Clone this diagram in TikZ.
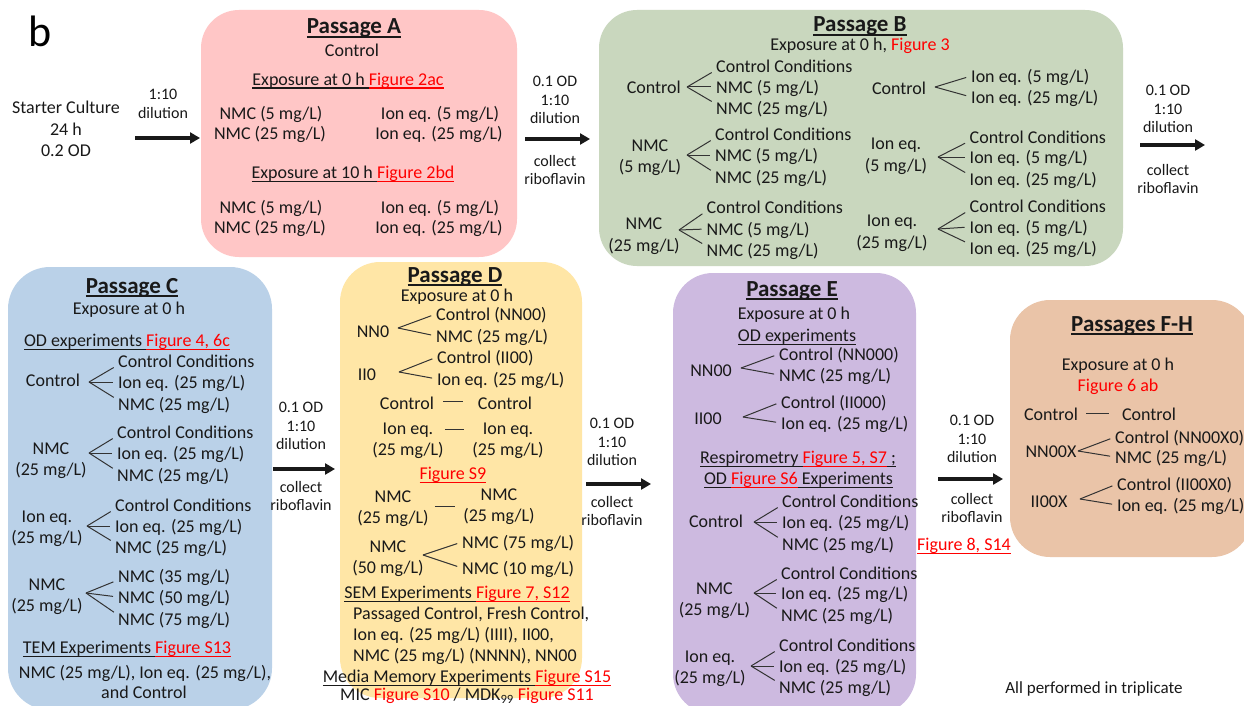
\documentclass[tikz,border=0pt]{standalone}
\usepackage{fontspec}
\setmainfont{Carlito}
\usetikzlibrary{arrows.meta}
\definecolor{cA}{HTML}{FFC6C6}
\definecolor{cB}{HTML}{C9D7BE}
\definecolor{cC}{HTML}{BAD1E8}
\definecolor{cD}{HTML}{FFE6A6}
\definecolor{cE}{HTML}{CDBAE0}
\definecolor{cF}{HTML}{EAC4A8}
\newcommand\myul[1]{\leavevmode\setbox0\hbox{#1}\rlap{\vrule height -2pt depth 3.3pt width \wd0}\box0}
\newcommand\myulb[1]{\leavevmode\setbox0\hbox{#1}\rlap{\vrule height -2.2pt depth 4.2pt width \wd0}\box0}
\newcommand\fanthree[4]{\draw[br] (#1) -- ([yshift=-4pt]#2.west); \draw[br] (#1) -- (#3.west); \draw[br] (#1) -- ([yshift=4pt]#4.west);}
\newcommand\fantwo[3]{\draw[br] (#1) -- (#2.west); \draw[br] (#1) -- (#3.west);}
\tikzset{
  t/.style={font=\fontsize{18}{21.5}\selectfont, inner sep=0pt, text height=16pt, text depth=3pt, text=black!90},
  tl/.style={t, anchor=west},
  mlc/.style={font=\fontsize{18}{21.5}\selectfont, inner sep=0pt, align=center, text=black!90},
  ml/.style={mlc, yshift=-2.2pt},
  sl/.style={font=\fontsize{16}{18.5}\selectfont, inner sep=0pt, align=center, text=black!90},
  ttl/.style={font=\fontsize{23}{27}\selectfont\bfseries, inner sep=0pt, text height=18pt, text depth=4pt, text=black!90},
  br/.style={line width=1pt, draw=black!80, shorten >=5pt},
  dsh/.style={line width=1pt, draw=black!80},
  arr/.style={line width=3.2pt, -{Triangle[length=10pt,width=11pt]}, draw=black!90},
  box/.style={rounded corners=38pt, inner sep=0pt, draw=none},
}
\begin{document}
\begin{tikzpicture}[x=1pt,y=-1pt]
\useasboundingbox (0,0) rectangle (1244,706);
\clip (0,0) rectangle (1244,706);
\fill[white] (0,0) rectangle (1244,706);

% boxes
\node[box, fill=cA, minimum width=316pt, minimum height=247pt] (bxA) at (359,133.5) {};
\node[box, fill=cB, minimum width=524pt, minimum height=256pt] (bxB) at (861,138) {};
\node[box, fill=cC, minimum width=264pt, minimum height=443pt, rounded corners=42pt] (bxC) at (140,488.5) {};
\node[box, fill=cD, minimum width=242pt, minimum height=436pt, rounded corners=40pt] (bxD) at (461,480) {};
\node[box, fill=cE, minimum width=243pt, minimum height=441pt, rounded corners=40pt] (bxE) at (794.5,493.5) {};
\node[box, fill=cF, minimum width=242pt, minimum height=257pt, rounded corners=40pt] (bxF) at (1131,428.5) {};

% label b and starter
\node[font=\fontsize{44}{50}\selectfont, inner sep=0pt, text=black] (lb) at (40,31) {b};
\node[mlc] (st) at (66,129) {Starter Culture\\24 h\\0.2 OD};
\node[sl] (l0) at (163,104) {1:10\\dilution};
\coordinate (a0s) at (135,138); \coordinate (a0e) at (200,138);
\draw[arr] (a0s) -- (a0e);

% Passage A
\node[ttl] (tA) at (354,27) {\myulb{Passage A}};
\node[t] (cA1) at (352,50) {Control};
\node[t] (xA1) at (348,79) {\myul{Exposure at 0 h }\textcolor{red}{\myul{Figure 2ac}}};
\node[t] (nA1) at (271,113) {NMC (5 mg/L)};
\node[t] (nA2) at (270,133) {NMC (25 mg/L)};
\node[t] (iA1) at (440,113) {Ion eq. (5 mg/L)};
\node[t] (iA2) at (439,133) {Ion eq. (25 mg/L)};
\node[t] (xA2) at (353,172) {\myul{Exposure at 10 h }\textcolor{red}{\myul{Figure 2bd}}};
\node[t] (nA3) at (271,207) {NMC (5 mg/L)};
\node[t] (nA4) at (270,227) {NMC (25 mg/L)};
\node[t] (iA3) at (440,207) {Ion eq. (5 mg/L)};
\node[t] (iA4) at (439,227) {Ion eq. (25 mg/L)};

% A -> B
\node[sl] (l1a) at (555,100) {0.1 OD\\1:10\\dilution};
\node[sl] (l1b) at (555,170) {collect\\riboflavin};
\coordinate (a1s) at (525,139); \coordinate (a1e) at (590,139);
\draw[arr] (a1s) -- (a1e);

% Passage B
\node[ttl] (tB) at (860,25) {\myulb{Passage B}};
\node[t] (eB) at (860,44) {Exposure at 0 h, \textcolor{red}{Figure 3}};
\node[t, anchor=east] (g1) at (681,87) {Control};
\coordinate (g1v) at (687,87);
\node[tl] (g1a) at (716,66) {Control Conditions};
\node[tl] (g1b) at (716,87) {NMC (5 mg/L)};
\node[tl] (g1c) at (716,108) {NMC (25 mg/L)};
\fanthree{g1v}{g1a}{g1b}{g1c}
\node[ml] (g2) at (650,155.5) {NMC\\(5 mg/L)};
\coordinate (g2v) at (687,155);
\node[tl] (g2a) at (715,134) {Control Conditions};
\node[tl] (g2b) at (715,155) {NMC (5 mg/L)};
\node[tl] (g2c) at (715,177) {NMC (25 mg/L)};
\fanthree{g2v}{g2a}{g2b}{g2c}
\node[ml] (g3) at (644,234) {NMC\\(25 mg/L)};
\coordinate (g3v) at (679,230);
\node[tl] (g3a) at (706.5,207) {Control Conditions};
\node[tl] (g3b) at (706.5,229) {NMC (5 mg/L)};
\node[tl] (g3c) at (706.5,250) {NMC (25 mg/L)};
\fanthree{g3v}{g3a}{g3b}{g3c}
\node[t] (g4) at (899,88) {Control};
\coordinate (g4v) at (935,87);
\node[tl] (g4a) at (971,76) {Ion eq. (5 mg/L)};
\node[tl] (g4b) at (971,97) {Ion eq. (25 mg/L)};
\fantwo{g4v}{g4a}{g4b}
\node[ml] (g5) at (896,154) {Ion eq.\\(5 mg/L)};
\coordinate (g5v) at (938,157);
\node[tl] (g5a) at (969.5,137) {Control Conditions};
\node[tl] (g5b) at (969.5,157) {Ion eq. (5 mg/L)};
\node[tl] (g5c) at (969.5,179) {Ion eq. (25 mg/L)};
\fanthree{g5v}{g5a}{g5b}{g5c}
\node[ml] (g6) at (892,231) {Ion eq.\\(25 mg/L)};
\coordinate (g6v) at (938,229);
\node[tl] (g6a) at (969.5,206) {Control Conditions};
\node[tl] (g6b) at (969.5,227) {Ion eq. (5 mg/L)};
\node[tl] (g6c) at (969.5,248) {Ion eq. (25 mg/L)};
\fanthree{g6v}{g6a}{g6b}{g6c}

% B -> next
\node[sl] (l2a) at (1168,109) {0.1 OD\\1:10\\dilution};
\node[sl] (l2b) at (1168,179) {collect\\riboflavin};
\coordinate (a2s) at (1140,145); \coordinate (a2e) at (1205,145);
\draw[arr] (a2s) -- (a2e);

% Passage C
\node[ttl] (tC) at (132,286) {\myulb{Passage C}};
\node[t] (eC) at (129,308) {Exposure at 0 h};
\node[t] (oC) at (127,340) {\myul{OD experiments }\textcolor{red}{\myul{Figure 4, 6c}}};
\node[t] (c1) at (53,380) {Control};
\coordinate (c1v) at (89,382);
\node[tl] (c1a) at (118,361) {Control Conditions};
\node[tl] (c1b) at (118,382) {Ion eq. (25 mg/L)};
\node[tl] (c1c) at (118,404) {NMC (25 mg/L)};
\fanthree{c1v}{c1a}{c1b}{c1c}
\node[ml] (c2) at (51,458.5) {NMC\\(25 mg/L)};
\coordinate (c2v) at (89,453);
\node[tl] (c2a) at (117,432) {Control Conditions};
\node[tl] (c2b) at (117,453) {Ion eq. (25 mg/L)};
\node[tl] (c2c) at (117,475) {NMC (25 mg/L)};
\fanthree{c2v}{c2a}{c2b}{c2c}
\node[ml] (c3) at (47,526.5) {Ion eq.\\(25 mg/L)};
\coordinate (c3v) at (87,526);
\node[tl] (c3a) at (115,505) {Control Conditions};
\node[tl] (c3b) at (115,526) {Ion eq. (25 mg/L)};
\node[tl] (c3c) at (115,547) {NMC (25 mg/L)};
\fanthree{c3v}{c3a}{c3b}{c3c}
\node[ml] (c4) at (47,594.5) {NMC\\(25 mg/L)};
\coordinate (c4v) at (86,593);
\node[tl] (c4a) at (118,576) {NMC (35 mg/L)};
\node[tl] (c4b) at (118,597) {NMC (50 mg/L)};
\node[tl] (c4c) at (118,619) {NMC (75 mg/L)};
\fanthree{c4v}{c4a}{c4b}{c4c}
\node[t] (tmC) at (127,647) {\myul{TEM Experiments }\textcolor{red}{\myul{Figure S13}}};
\node[t] (tmC1) at (145,672) {NMC (25 mg/L), Ion eq. (25 mg/L),};
\node[t] (tmC2) at (144,692) {and Control};

% C -> D
\node[sl] (l3a) at (301,426) {0.1 OD\\1:10\\dilution};
\node[sl] (l3b) at (301,496) {collect\\riboflavin};
\coordinate (a3s) at (273,469); \coordinate (a3e) at (335,469);
\draw[arr] (a3s) -- (a3e);

% Passage D
\node[ttl] (tD) at (455,275) {\myulb{Passage D}};
\node[t] (eD) at (457,295) {Exposure at 0 h};
\node[t] (d1) at (373,331) {NN0};
\coordinate (d1v) at (398,328);
\node[tl] (d1a) at (436,314) {Control (NN00)};
\node[tl] (d1b) at (436,336) {NMC (25 mg/L)};
\fantwo{d1v}{d1a}{d1b}
\node[t] (d2) at (367,374) {II0};
\coordinate (d2v) at (399,372);
\node[tl] (d2a) at (437,357) {Control (II00)};
\node[tl] (d2b) at (437,379) {Ion eq. (25 mg/L)};
\fantwo{d2v}{d2a}{d2b}
\node[t] (dc1) at (407,403) {Control};
\node[t] (dc2) at (505,403) {Control};
\draw[dsh, shorten <=9pt, shorten >=15pt] ([yshift=2pt]dc1.east) -- ([yshift=2pt]dc2.west);
\node[ml] (di1) at (408,438.5) {Ion eq.\\(25 mg/L)};
\node[ml] (di2) at (508,438.5) {Ion eq.\\(25 mg/L)};
\draw[dsh, shorten <=1pt, shorten >=8pt] ([yshift=11.5pt]di1.east) -- ([yshift=11.5pt]di2.west);
\node[t] (dS9) at (453,473) {\textcolor{red}{\myul{Figure S9}}};
\node[ml] (dn1) at (393,506.5) {NMC\\(25 mg/L)};
\node[ml] (dn2) at (499,504.5) {NMC\\(25 mg/L)};
\draw[dsh, shorten <=6pt, shorten >=8.5pt] ([yshift=2.5pt]dn1.east) -- ([yshift=0.5pt]dn2.west);
\node[ml] (d5) at (388,556.5) {NMC\\(50 mg/L)};
\coordinate (d5v) at (423,555);
\node[tl] (d5a) at (462,542) {NMC (75 mg/L)};
\node[tl] (d5b) at (462,568) {NMC (10 mg/L)};
\fantwo{d5v}{d5a}{d5b}
\node[t] (sD) at (457,592) {\myul{SEM Experiments }\textcolor{red}{\myul{Figure 7, S12}}};
\node[tl] (sD1) at (353,613) {Passaged Control, Fresh Control,};
\node[tl] (sD2) at (353,634) {Ion eq. (25 mg/L) (IIII), II00,};
\node[tl] (sD3) at (353,655) {NMC (25 mg/L) (NNNN), NN00};
\node[t] (mD) at (467,676) {\myul{Media Memory Experiments }\textcolor{red}{\myul{Figure S15}}};
\node[t] (mD2) at (467,694) {MIC \textcolor{red}{Figure S10} / MDK\textsubscript{99} \textcolor{red}{Figure S11}};

% D -> E
\node[sl] (l4a) at (612,442) {0.1 OD\\1:10\\dilution};
\node[sl] (l4b) at (612,511) {collect\\riboflavin};
\coordinate (a4s) at (586,484); \coordinate (a4e) at (651,484);
\draw[arr] (a4s) -- (a4e);

% Passage E
\node[ttl] (tE) at (792,289) {\myulb{Passage E}};
\node[t] (eE) at (794,313) {Exposure at 0 h};
\node[t] (oE) at (797,335) {\myul{OD experiments}};
\node[t] (e1) at (711,370) {NN00};
\coordinate (e1v) at (741,368);
\node[tl] (e1a) at (779,354) {Control (NN000)};
\node[tl] (e1b) at (779,375) {NMC (25 mg/L)};
\fantwo{e1v}{e1a}{e1b}
\node[t] (e2) at (708,418) {II00};
\coordinate (e2v) at (743,417);
\node[tl] (e2a) at (781,402) {Control (II000)};
\node[tl] (e2b) at (781,423) {Ion eq. (25 mg/L)};
\fantwo{e2v}{e2a}{e2b}
\node[t] (rE) at (798,457) {\myul{Respirometry }\textcolor{red}{\myul{Figure 5, S7}}\myul{ ;}};
\node[t] (rE2) at (798.5,478) {\myul{OD }\textcolor{red}{\myul{Figure S6}}\myul{ Experiments}};
\node[t] (e3) at (716,521) {Control};
\coordinate (e3v) at (754,522);
\node[tl] (e3a) at (782,501) {Control Conditions};
\node[tl] (e3b) at (782,522) {Ion eq. (25 mg/L)};
\node[tl] (e3c) at (782,544) {NMC (25 mg/L)};
\fanthree{e3v}{e3a}{e3b}{e3c}
\node[ml] (e4) at (714.5,598.5) {NMC\\(25 mg/L)};
\coordinate (e4v) at (754,593);
\node[tl] (e4a) at (781,573) {Control Conditions};
\node[tl] (e4b) at (781,593) {Ion eq. (25 mg/L)};
\node[tl] (e4c) at (781,615) {NMC (25 mg/L)};
\fanthree{e4v}{e4a}{e4b}{e4c}
\node[ml] (e5) at (710,666.5) {Ion eq.\\(25 mg/L)};
\coordinate (e5v) at (751,666);
\node[tl] (e5a) at (779,645) {Control Conditions};
\node[tl] (e5b) at (779,666) {Ion eq. (25 mg/L)};
\node[tl] (e5c) at (779,687) {NMC (25 mg/L)};
\fanthree{e5v}{e5a}{e5b}{e5c}

% E -> F
\node[sl] (l5a) at (972,439) {0.1 OD\\1:10\\dilution};
\node[sl] (l5b) at (972,508) {collect\\riboflavin};
\coordinate (a5s) at (938,479); \coordinate (a5e) at (1003,479);
\draw[arr] (a5s) -- (a5e);
\node[t] (f8) at (964,544) {\textcolor{red}{\myul{Figure 8, S14}}};

% Passages F-H
\node[ttl] (tF) at (1132,324) {\myulb{Passages F-H}};
\node[t] (eF) at (1118,364) {Exposure at 0 h};
\node[t] (fF) at (1118,385) {\textcolor{red}{Figure 6 ab}};
\node[t] (fc1) at (1051,414) {Control};
\node[t] (fc2) at (1149,414) {Control};
\draw[dsh, shorten <=8pt, shorten >=13pt] ([yshift=1pt]fc1.east) -- ([yshift=1pt]fc2.west);
\node[t] (f1) at (1051,451) {NN00X};
\coordinate (f1v) at (1078,451);
\node[tl] (f1a) at (1115,437) {Control (NN00X0)};
\node[tl] (f1b) at (1115,457) {NMC (25 mg/L)};
\fantwo{f1v}{f1a}{f1b}
\node[t] (f2) at (1049,501) {II00X};
\coordinate (f2v) at (1080,499);
\node[tl] (f2a) at (1117,484) {Control (II00X0)};
\node[tl] (f2b) at (1117,505) {Ion eq. (25 mg/L)};
\fantwo{f2v}{f2a}{f2b}
\node[t, font=\fontsize{17}{20}\selectfont] (tri) at (1094,687) {All performed in triplicate};
\end{tikzpicture}
\end{document}
